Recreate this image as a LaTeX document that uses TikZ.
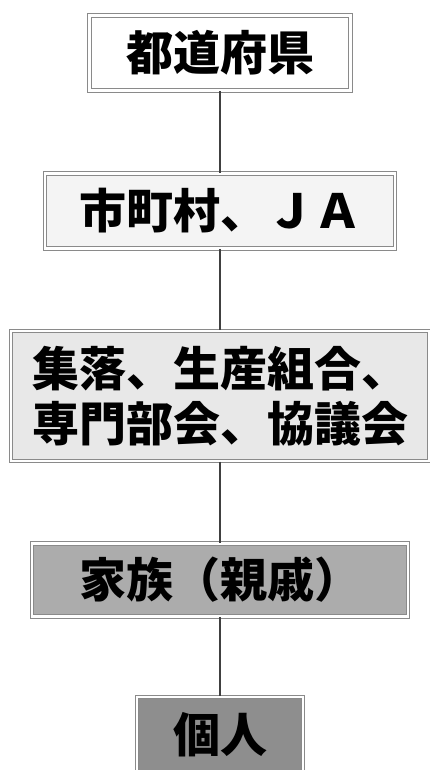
\documentclass[tikz,border=0pt]{standalone}
\usepackage{fontspec}
\setmainfont{Noto Sans CJK JP}
\definecolor{fillA}{HTML}{FFFFFF}
\definecolor{fillB}{HTML}{F4F4F4}
\definecolor{fillC}{HTML}{E8E8E8}
\definecolor{fillD}{HTML}{ACACAC}
\definecolor{fillE}{HTML}{8E8E8E}
\definecolor{edge}{HTML}{8A8A8A}
\definecolor{conn}{HTML}{404040}
\begin{document}
\begin{tikzpicture}[x=1pt,y=-1pt,
  orgbox/.style={draw=edge, double=white, double distance=2.2pt, line width=1.1pt,
    inner sep=0pt, font=\fontsize{47}{55}\selectfont\bfseries, align=center},
  link/.style={draw=conn, line width=1.3pt}]
\useasboundingbox (0,0) rectangle (430,770);
\node[orgbox, fill=fillA, minimum width=261pt, minimum height=75pt] (b1) at (220,53) {都道府県};
\node[orgbox, fill=fillB, minimum width=350pt, minimum height=75pt] (b2) at (220,211) {市町村、ＪＡ};
\node[orgbox, fill=fillC, minimum width=418pt, minimum height=130pt] (b3) at (220,396) {集落、生産組合、\\専門部会、協議会};
\node[orgbox, fill=fillD, minimum width=376pt, minimum height=73pt] (b4) at (220,580) {家族（親戚）};
\node[orgbox, fill=fillE, minimum width=166pt, minimum height=76pt] (b5) at (220,735) {個人};
\draw[link] (b1) -- (b2);
\draw[link] (b2) -- (b3);
\draw[link] (b3) -- (b4);
\draw[link] (b4) -- (b5);
\end{tikzpicture}
\end{document}
